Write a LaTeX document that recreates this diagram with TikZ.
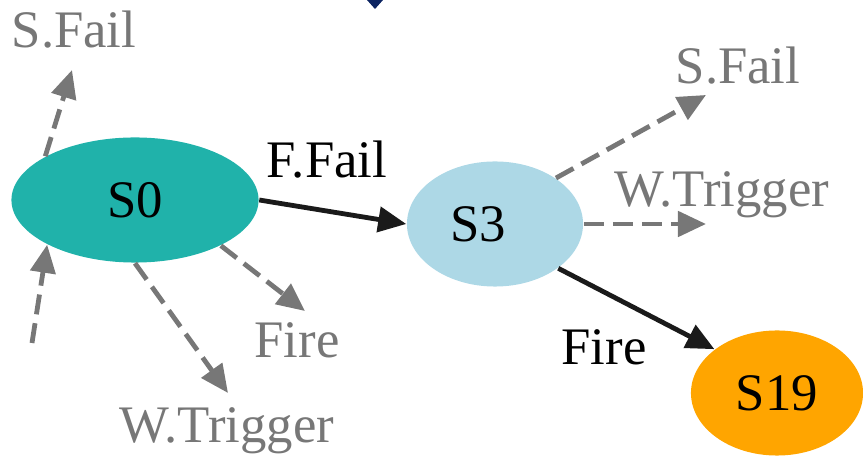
\documentclass[tikz,border=0pt]{standalone}
\usepackage{fontspec}
\setmainfont{Liberation Serif}
\usepackage{xcolor}
\usepackage{tikz}
\usetikzlibrary{shapes,arrows.meta}
\tikzstyle{stateblock} = [ellipse, inner sep=0pt, font=\fontsize{15}{18}\selectfont]
\tikzstyle{tag} = [inner sep=0pt, font=\fontsize{15}{18}\selectfont]
\tikzstyle{arrow} = [draw, -{Triangle[length=0.28cm, width=0.25cm]}, line width=0.048cm, color=bblack]
\tikzstyle{faded} = [arrow, dash pattern=on 0.2cm off 0.09cm, color=bgray]
\definecolor{bteal}{HTML}{20B2AA}
\definecolor{bblue}{HTML}{ADD8E6}
\definecolor{borange}{HTML}{FFA500}
\definecolor{bgray}{HTML}{777777}
\definecolor{bblack}{HTML}{1A1A1A}
\definecolor{bnavy}{HTML}{0C2461}

\begin{document}
\begin{tikzpicture}[x=0.01cm, y=-0.01cm]
    \useasboundingbox (0, 0) rectangle (863, 458);

    % head of an edge from above
    \fill[bnavy] (367, 0) -- (383, 0) -- (375, 9) -- cycle;

    % states
    \node[stateblock, fill=bteal, minimum width=2.47cm, minimum height=1.25cm] at (135, 200) (s0) {S0};
    \node[stateblock, fill=bblue, minimum width=1.76cm, minimum height=1.25cm, label={[tag, xshift=-0.17cm]center:S3}] at (495, 224) (s3) {};
    \node[stateblock, fill=borange, minimum width=1.72cm, minimum height=1.25cm] at (777, 393) (s19) {S19};

    % taken transitions
    \path[arrow] (s0.east) to (s3.west);
    \path[arrow] (s3.-35) to (s19.145);
    \node[tag] at (327, 160) (ffail) {F.Fail};
    \node[tag] at (604, 347) (fire) {Fire};

    % other events
    \coordinate (in0) at (32, 343);
    \coordinate (sf0) at (72, 70);
    \coordinate (fi0) at (305, 311);
    \coordinate (wt0) at (228, 393);
    \coordinate (sf3) at (706, 95);
    \coordinate (wt3) at (706, 224);

    \path[faded] (in0) to (s0.207);
    \path[faded] (s0.154) to (sf0);
    \path[faded] (s0.-28) to (fi0);
    \path[faded] (s0.south) to (wt0);
    \path[faded] (s3.37) to (sf3);
    \path[faded] (s3.east) to (wt3);

    \node[tag, text=bgray] at (74, 30) (sfail0) {S.Fail};
    \node[tag, text=bgray] at (297, 340) (fire0) {Fire};
    \node[tag, text=bgray] at (227, 431) (wtrig0) {W.Trigger};
    \node[tag, text=bgray] at (738, 66) (sfail3) {S.Fail};
    \node[tag, text=bgray] at (722, 195) (wtrig3) {W.Trigger};

\end{tikzpicture}
\end{document}
